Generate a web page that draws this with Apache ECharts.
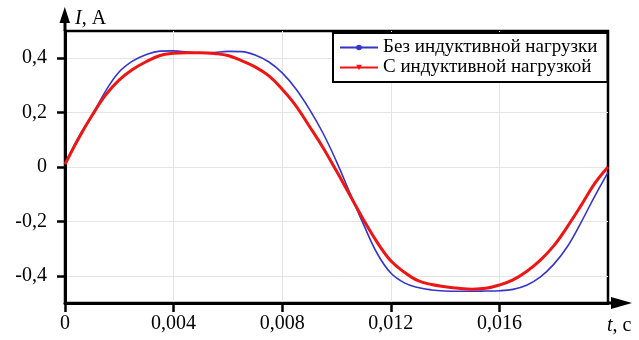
<!DOCTYPE html>
<html><head><meta charset="utf-8">
<script src="https://cdn.jsdelivr.net/npm/echarts@6/dist/echarts.min.js"></script>
<style>html,body{margin:0;padding:0;background:#fff}#c{width:639px;height:340px}</style>
</head><body><div id="c"></div>
<script>
const timeS = [0,0.0005,0.001,0.0015,0.002,0.0025,0.003,0.0035,0.004,0.0045,0.005,0.0055,0.006,0.0065,0.007,0.0075,0.008,0.0085,0.009,0.0095,0.01,0.0105,0.011,0.0115,0.012,0.0125,0.013,0.0135,0.014,0.0145,0.015,0.0155,0.016,0.0165,0.017,0.0175,0.018,0.0185,0.019,0.0195,0.02];
const currentNoLoad = [0.01,0.11,0.19,0.28,0.35,0.39,0.414,0.426,0.427,0.423,0.419,0.421,0.425,0.424,0.412,0.387,0.346,0.288,0.213,0.125,0.02,-0.097,-0.212,-0.318,-0.39,-0.426,-0.443,-0.452,-0.456,-0.457,-0.457,-0.456,-0.455,-0.45,-0.435,-0.405,-0.358,-0.293,-0.205,-0.11,-0.02];
const currentInductive = [0.01,0.105,0.19,0.265,0.32,0.359,0.388,0.41,0.418,0.42,0.42,0.417,0.41,0.391,0.368,0.336,0.286,0.226,0.15,0.072,-0.015,-0.105,-0.195,-0.277,-0.345,-0.387,-0.418,-0.432,-0.44,-0.446,-0.449,-0.446,-0.434,-0.415,-0.384,-0.343,-0.29,-0.22,-0.143,-0.062,0.0];
const seriesNames = ['Без индуктивной нагрузки','С индуктивной нагрузкой'];
const xTickValues = [0,0.004,0.008,0.012,0.016];
const yTickValues = [-0.4,-0.2,0,0.2,0.4];

const FONT = 'Liberation Serif';
const fmt = v => String(+v.toFixed(4)).replace('.', ',');
const chart = echarts.init(document.getElementById('c'), null, {renderer:'canvas'});
chart.setOption({
  animation:false,
  backgroundColor:'#fff',
  grid:{left:65,right:31,top:31,bottom:37,show:true,borderColor:'#000',borderWidth:2.5,backgroundColor:'transparent'},
  legend:{
    orient:'vertical', left:333, top:33,
    itemWidth:38, itemHeight:7, itemGap:1,
    padding:[5,10,5,6], backgroundColor:'#fff', borderColor:'#000', borderWidth:2,
    textStyle:{fontFamily:FONT,fontSize:19,color:'#000',lineHeight:19},
    data:seriesNames
  },
  xAxis:{
    type:'value', min:0, max:0.02, interval:0.002,
    name:'{i|t}, c', nameLocation:'end', nameGap:-1,
    nameTextStyle:{fontFamily:FONT,fontSize:20,color:'#000',align:'left',verticalAlign:'top',padding:[13,0,0,0],
      rich:{i:{fontFamily:FONT,fontSize:20,fontStyle:'italic',color:'#000'}}},
    axisLine:{show:true,onZero:false,lineStyle:{color:'#000',width:3}},
    axisTick:{show:true,length:9,lineStyle:{color:'#000',width:2.5},customValues:xTickValues},
    axisLabel:{fontFamily:FONT,fontSize:20,color:'#000',margin:11,formatter:fmt,customValues:xTickValues},
    splitLine:{show:true,lineStyle:{color:'#e4e4e4',width:1}}
  },
  yAxis:{
    type:'value', min:-0.5, max:0.5, interval:0.1,
    name:'{i|I}, A', nameLocation:'end', nameGap:2,
    nameTextStyle:{fontFamily:FONT,fontSize:20,color:'#000',align:'left',verticalAlign:'bottom',padding:[0,0,0,10],
      rich:{i:{fontFamily:FONT,fontSize:20,fontStyle:'italic',color:'#000'}}},
    axisLine:{show:true,onZero:false,lineStyle:{color:'#000',width:3}},
    axisTick:{show:true,length:8,lineStyle:{color:'#000',width:2.5},customValues:yTickValues},
    axisLabel:{fontFamily:FONT,fontSize:20,color:'#000',margin:18,formatter:fmt,customValues:yTickValues},
    splitLine:{show:true,lineStyle:{color:'#e4e4e4',width:1}}
  },
  series:[
    {name:seriesNames[0],type:'line',smooth:0.4,showSymbol:false,symbol:'circle',symbolSize:4,
     data:timeS.map((t,i)=>[t,currentNoLoad[i]]),
     lineStyle:{color:'#3535c8',width:1.6},itemStyle:{color:'#3535c8'},z:3},
    {name:seriesNames[1],type:'line',smooth:0.4,showSymbol:false,symbol:'triangle',symbolRotate:180,symbolSize:7,
     data:timeS.map((t,i)=>[t,currentInductive[i]]),
     lineStyle:{color:'#ee1515',width:3},itemStyle:{color:'#ee1515'},z:4}
  ],
  graphic:[
    {type:'line',shape:{x1:65,y1:31,x2:65,y2:20},style:{stroke:'#000',lineWidth:3},z:10},
    {type:'polygon',shape:{points:[[59.5,23],[70,23],[64.8,7]]},style:{fill:'#000'},z:10},
    {type:'line',shape:{x1:608,y1:303,x2:615,y2:303},style:{stroke:'#000',lineWidth:3},z:10},
    {type:'polygon',shape:{points:[[611,297],[611,309],[632,303]]},style:{fill:'#000'},z:10}
  ]
});
</script></body></html>
